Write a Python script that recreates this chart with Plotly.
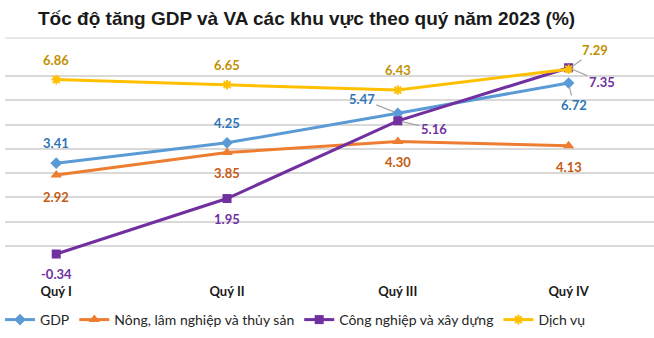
import plotly.graph_objects as go

quarters = ["Quý I", "Quý II", "Quý III", "Quý IV"]
gdp = [3.41, 4.25, 5.47, 6.72]
nong = [2.92, 3.85, 4.30, 4.13]
cong = [-0.34, 1.95, 5.16, 7.35]
dichvu = [6.86, 6.65, 6.43, 7.29]

series_names = ["GDP", "Nông, lâm nghiệp và thủy sản", "Công nghiệp và xây dựng", "Dịch vụ"]
series_values = [gdp, nong, cong, dichvu]
line_colors = ["#5B9BD5", "#ED7D31", "#7030A0", "#FFC000"]
label_colors = ["#2E75B6", "#C55A11", "#7030A0", "#BF9000"]
symbols = ["diamond", "triangle-up", "square", "asterisk-open"]
msizes = [9, 10, 9, 8]

# label offsets in pixels (dx, dy) ; leader = draw gray leader line
label_offsets = [
    [(0, -20, False), (0, -20, False), (-36, -14, True), (5, 22, True)],
    [(0, 22, False), (0, 20, False), (0, 20, False), (0, 21, False)],
    [(0, 20, False), (0, 20, False), (36, 8, True), (33, 14, True)],
    [(0, -20, False), (0, -20, False), (0, -20, False), (26, -19, True)],
]

fig = go.Figure()
for name, vals, lc, sym, ms in zip(series_names, series_values, line_colors, symbols, msizes):
    marker = dict(symbol=sym, size=ms, color=lc)
    if sym.startswith("asterisk"):
        marker["line"] = dict(color=lc, width=2)
    fig.add_trace(go.Scatter(
        x=quarters, y=vals, name=name, mode="lines+markers",
        line=dict(color=lc, width=3), marker=marker,
    ))

annotations = []
for vals, col, offs in zip(series_values, label_colors, label_offsets):
    for q, v, (dx, dy, leader) in zip(quarters, vals, offs):
        a = dict(x=q, y=v, xref="x", yref="y", text=f"<b>{v:.2f}</b>",
                 font=dict(family="Lato", size=13, color=col))
        if leader:
            a.update(showarrow=True, arrowhead=0, arrowwidth=1.2, arrowcolor="#A6A6A6",
                     ax=dx, ay=dy, standoff=4)
        else:
            a.update(showarrow=False, xshift=dx, yshift=-dy)
        annotations.append(a)

annotations.append(dict(
    text="<b>Tốc độ tăng GDP và VA các khu vực theo quý năm 2023 (%)</b>",
    xref="paper", yref="paper", x=0.047, y=(270 - 18) / 218.0,
    xanchor="left", yanchor="middle", showarrow=False,
    font=dict(family="Liberation Sans", size=19, color="#1a1a1a"),
))

fig.update_layout(
    width=654, height=338,
    margin=dict(l=0, r=0, t=52, b=68),
    paper_bgcolor="white", plot_bgcolor="white",
    showlegend=True,
    legend=dict(orientation="h", x=-0.008, xanchor="left", y=-(320 - 270) / 218.0, yanchor="middle",
                font=dict(family="Lato", size=14, color="#262626"),
                itemwidth=30, tracegroupgap=0, bgcolor="rgba(0,0,0,0)"),
    annotations=annotations,
    shapes=[dict(type="line", xref="paper", yref="paper", x0=0, x1=1,
                 y0=(270 - 38) / 218.0, y1=(270 - 38) / 218.0,
                 line=dict(color="#E0E0E0", width=1.5))],
)
fig.update_xaxes(range=[-0.30, 3.50], showgrid=False, showline=False, zeroline=False,
                 ticks="", ticklabelstandoff=12,
                 tickfont=dict(family="Lato", size=13, color="#1a1a1a", weight="bold"))
fig.update_yaxes(range=[-1, 8], dtick=1, showticklabels=False, showgrid=True,
                 gridcolor="#D9D9D9", gridwidth=1.5, zeroline=False, showline=False)

fig.write_html("out.html")
